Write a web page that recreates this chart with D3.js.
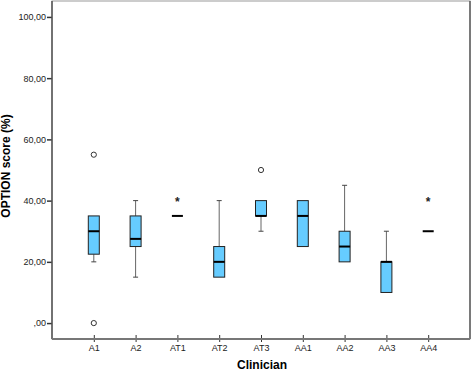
<!DOCTYPE html>
<html>
<head>
<meta charset="utf-8">
<script src="https://d3js.org/d3.v7.min.js"></script>
<style>
  body { margin: 0; background: #fff; }
  svg { display: block; font-family: Arial, "Liberation Sans", sans-serif; }
</style>
</head>
<body>
<svg id="chart" width="472" height="371"></svg>
<script>
// Box plot summary per clinician
const clinicians = ['A1', 'A2', 'AT1', 'AT2', 'AT3', 'AA1', 'AA2', 'AA3', 'AA4'];
const whiskerLow  = [20, 15, 35, 15, 30, 25, 20, 10, 30];
const q1          = [22.5, 25, 35, 15, 35, 25, 20, 10, 30];
const medians     = [30, 27.5, 35, 20, 35, 35, 25, 20, 30];
const q3          = [35, 35, 35, 25, 40, 40, 30, 20, 30];
const whiskerHigh = [35, 40, 35, 40, 40, 40, 45, 30, 30];
// outliers: circles (mild) and stars (extreme)
const mildOutliers = [
  { c: 'A1', v: 55 }, { c: 'A1', v: 0 }, { c: 'AT3', v: 50 }
];
const extremeOutliers = [
  { c: 'AT1', v: 40 }, { c: 'AA4', v: 40 }
];
const yTicks = [0, 20, 40, 60, 80, 100];

const svg = d3.select('#chart');
const plotL = 52, plotR = 470, plotT = 1, plotB = 339;

const x = d3.scalePoint().domain(clinicians).range([plotL, plotR]).padding(1);
const y = d3.scaleLinear().domain([-5.2, 105.2]).range([plotB, plotT]);

const fmt = v => (v === 0 ? ',00' : v.toFixed(2).replace('.', ','));

// frame
svg.append('rect')
  .attr('x', plotL).attr('y', plotT)
  .attr('width', plotR - plotL).attr('height', plotB - plotT)
  .attr('fill', 'none').attr('stroke', '#9a9a9a').attr('stroke-width', 1);
svg.append('line').attr('x1', plotR).attr('x2', plotR).attr('y1', plotT).attr('y2', plotB)
  .attr('stroke', '#444').attr('stroke-width', 1.2);

// y axis
const yAxis = svg.append('g')
  .attr('transform', `translate(${plotL},0)`)
  .call(d3.axisLeft(y).tickValues(yTicks).tickFormat(fmt).tickSize(5).tickSizeOuter(0));
yAxis.select('.domain').remove();
yAxis.append('line').attr('x1', 0).attr('x2', 0).attr('y1', plotT).attr('y2', plotB)
  .attr('stroke', '#555').attr('stroke-width', 1.5);
yAxis.selectAll('.tick line').attr('stroke', '#333').attr('stroke-width', 1.5);
yAxis.selectAll('.tick text').attr('font-size', 9).attr('fill', '#222').attr('x', -6);

// x axis
const xAxis = svg.append('g')
  .attr('transform', `translate(0,${plotB})`)
  .call(d3.axisBottom(x).tickSize(0).tickSizeOuter(0));
xAxis.select('.domain').remove();
xAxis.append('line').attr('x1', plotL).attr('x2', plotR).attr('y1', 0).attr('y2', 0)
  .attr('stroke', '#777').attr('stroke-width', 2);
xAxis.selectAll('.tick').append('line')
  .attr('y1', -4).attr('y2', 3).attr('stroke', '#333').attr('stroke-width', 1);
xAxis.selectAll('.tick text').attr('font-size', 9).attr('fill', '#222').attr('y', 6);

// axis titles
svg.append('text')
  .attr('x', 262).attr('y', 369)
  .attr('text-anchor', 'middle').attr('font-size', 12).attr('font-weight', 'bold')
  .text('Clinician');
svg.append('text')
  .attr('transform', 'translate(10,166) rotate(-90)')
  .attr('text-anchor', 'middle').attr('font-size', 12).attr('font-weight', 'bold')
  .text('OPTION score (%)');

// boxes
const boxW = 11, capW = 5;
const g = svg.append('g');
clinicians.forEach((c, i) => {
  const cx = x(c);
  // whiskers
  [[q3[i], whiskerHigh[i]], [whiskerLow[i], q1[i]]].forEach(([a, b]) => {
    if (a === b) return;
    g.append('line').attr('x1', cx).attr('x2', cx).attr('y1', y(a)).attr('y2', y(b))
      .attr('stroke', '#666').attr('stroke-width', 1);
  });
  [whiskerHigh[i], whiskerLow[i]].forEach((v, k) => {
    const edge = k === 0 ? q3[i] : q1[i];
    if (v === edge) return;
    g.append('line').attr('x1', cx - capW / 2).attr('x2', cx + capW / 2).attr('y1', y(v)).attr('y2', y(v))
      .attr('stroke', '#444').attr('stroke-width', 1);
  });
  if (q3[i] > q1[i]) {
    g.append('rect')
      .attr('x', cx - boxW / 2).attr('y', y(q3[i]))
      .attr('width', boxW).attr('height', y(q1[i]) - y(q3[i]))
      .attr('fill', '#66ccff').attr('stroke', '#222').attr('stroke-width', 1);
  }
  g.append('line')
    .attr('x1', cx - boxW / 2).attr('x2', cx + boxW / 2)
    .attr('y1', y(medians[i])).attr('y2', y(medians[i]))
    .attr('stroke', '#000').attr('stroke-width', 2);
});

// outliers
g.selectAll('circle.out').data(mildOutliers).join('circle')
  .attr('class', 'out')
  .attr('cx', d => x(d.c)).attr('cy', d => y(d.v)).attr('r', 2.6)
  .attr('fill', 'none').attr('stroke', '#333').attr('stroke-width', 1);
g.selectAll('text.ext').data(extremeOutliers).join('text')
  .attr('class', 'ext')
  .attr('x', d => x(d.c)).attr('y', d => y(d.v) + 5)
  .attr('text-anchor', 'middle').attr('font-size', 12).attr('font-weight', 'bold').attr('fill', '#222')
  .text('*');
</script>
</body>
</html>
